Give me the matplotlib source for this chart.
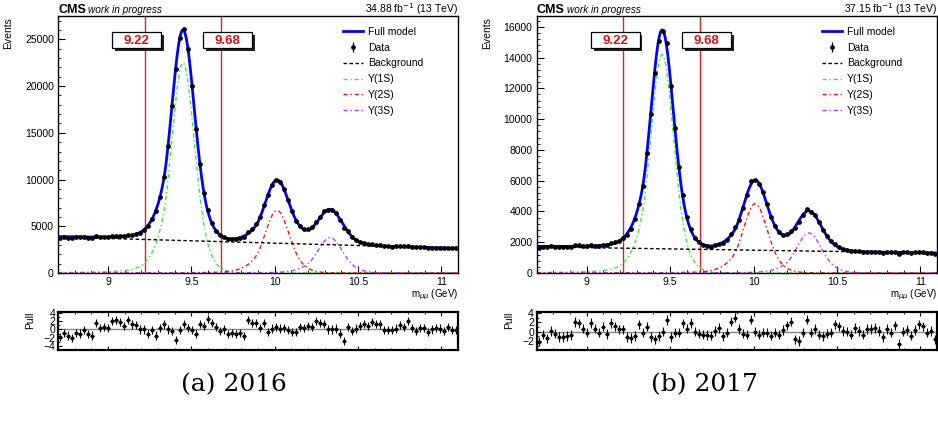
import numpy as np
import matplotlib
matplotlib.use("Agg")
import matplotlib.pyplot as plt
from matplotlib.patches import Rectangle
from matplotlib.ticker import MultipleLocator, FixedLocator, NullFormatter

plt.rcParams['font.family'] = ['Liberation Sans', 'DejaVu Sans']

# ---------------- data ----------------
mass_range = [8.7, 11.1]
n_bins = 100
cut_values = [9.22, 9.68]
cut_labels = ['9.22', '9.68']
captions = ['(a) 2016', '(b) 2017']
lumi_labels = ['34.88 fb$^{-1}$ (13 TeV)', '37.15 fb$^{-1}$ (13 TeV)']
legend_labels = ['Full model', 'Data', 'Background', 'Υ(1S)', 'Υ(2S)', 'Υ(3S)']
x_ticks = [9, 9.5, 10, 10.5, 11]
x_tick_labels = ['9', '9.5', '10', '10.5', '11']

data_2016 = [3783, 3840, 3792, 3754, 3820, 3803, 3846, 3778, 3754, 3943,
             3868, 3873, 3868, 3978, 3995, 3987, 3952, 4087, 4093, 4204,
             4316, 4612, 4998, 5732, 6603, 8151, 10292, 13543, 17856, 21821,
             25195, 26080, 23989, 20043, 15455, 11688, 8565, 6728, 5380, 4542,
             4037, 3804, 3606, 3606, 3619, 3735, 3854, 4354, 4682, 5214,
             5973, 7250, 8311, 9428, 9990, 9783, 9008, 7799, 6583, 5614,
             5046, 4693, 4662, 4873, 5469, 6043, 6581, 6786, 6759, 6396,
             5683, 4847, 4450, 3879, 3556, 3352, 3229, 3093, 3079, 3010,
             2967, 2867, 2848, 2833, 2839, 2869, 2836, 2897, 2800, 2746,
             2776, 2764, 2700, 2719, 2728, 2704, 2661, 2701, 2648, 2636]
pull_2016 = [-1.8, -0.8, -1.5, -2.0, -0.8, -1.0, -0.2, -1.2, -1.5, 1.6,
             0.4, 0.5, 0.4, 2.1, 2.2, 1.8, 0.8, 2.2, 1.2, 1.1,
             0.0, 0.0, -1.0, -0.2, -1.5, 0.4, 1.2, 0.0, -0.3, -2.6,
             -0.2, 1.4, 0.4, -0.2, -1.0, 1.4, 0.8, 2.6, 1.6, 0.5,
             -0.3, 0.0, -1.2, -0.8, -1.1, -0.8, -1.6, 2.2, 1.6, 1.6,
             0.4, 1.6, -0.6, 0.2, 0.6, 0.2, 0.4, -0.2, -0.6, -0.6,
             0.6, 0.4, 0.8, 0.6, 2.0, 1.6, 1.4, 0.0, 0.0, 0.2,
             -1.0, -2.9, 0.6, -0.4, 0.2, 0.8, 1.4, 0.8, 1.8, 1.4,
             1.2, -0.2, -0.2, -0.2, 0.2, 1.0, 0.6, 2.0, 0.4, -0.4,
             0.4, 0.4, -0.6, 0.0, 0.4, 0.2, -0.4, 0.6, -0.2, -0.2]
data_2017 = [1643, 1703, 1669, 1734, 1708, 1678, 1678, 1688, 1697, 1815,
             1805, 1763, 1731, 1825, 1784, 1762, 1837, 1798, 1946, 1991,
             2078, 2263, 2464, 2866, 3482, 4494, 5625, 7788, 10304, 12988,
             15070, 15744, 14937, 12156, 9427, 6870, 5044, 3640, 2880, 2292,
             1986, 1817, 1733, 1721, 1794, 1897, 1945, 2168, 2549, 2982,
             3475, 4226, 5047, 5946, 6031, 5798, 5243, 4455, 3638, 3057,
             2634, 2491, 2527, 2744, 2895, 3288, 3778, 4182, 3991, 3784,
             3288, 2788, 2382, 2048, 1881, 1702, 1558, 1485, 1419, 1444,
             1403, 1362, 1397, 1391, 1392, 1365, 1310, 1372, 1339, 1393,
             1243, 1334, 1345, 1297, 1337, 1376, 1357, 1303, 1313, 1244]
pull_2017 = [-2.1, -0.6, -1.4, 0.2, -0.4, -1.1, -1.1, -0.9, -0.7, 2.1,
             1.8, 0.7, -0.2, 1.9, 0.7, -0.2, 1.1, -0.5, 1.9, 1.2,
             0.5, 0.5, -1.1, -1.3, -0.9, 1.6, -0.2, 1.1, -1.1, -1.6,
             -0.9, 0.0, 2.5, -1.1, -0.2, -0.2, 1.8, 0.7, 1.9, 0.0,
             -0.4, -0.6, -0.7, -0.8, 0.2, 0.8, -1.0, -0.2, 2.2, 3.0,
             0.6, -0.4, -0.6, 2.6, 0.0, -0.6, -0.2, -0.2, -0.8, -0.2,
             -0.6, 0.4, 1.4, 2.2, -1.6, -2.0, -0.2, 2.6, -0.2, 0.6,
             -0.6, -1.0, -0.4, -0.2, 1.6, 1.2, 0.2, 0.0, -0.6, 0.8,
             0.2, -0.6, 0.6, 0.6, 0.8, 0.2, -1.2, 0.6, -0.2, 1.4,
             -2.6, 0.0, 0.4, -0.8, 0.4, 1.6, 1.2, -0.2, 0.2, -1.6]

# fit-model parameters
peak_mass_2016 = [9.450, 10.014, 10.332]
core_height_2016 = [15650, 4670, 2630]
wide_height_2016 = [6850, 2020, 1140]
bkg_ends_2016 = [3850, 2640]
peak_mass_2017 = [9.452, 10.010, 10.332]
core_height_2017 = [9900, 3140, 1815]
wide_height_2017 = [4290, 1360, 785]
bkg_ends_2017 = [1700, 1300]
core_width = [0.062, 0.0657, 0.0678]
wide_width = [0.100, 0.106, 0.109]
tail_alpha = 1.6
tail_n = 2.0

panels = [
    dict(data=data_2016, pull=pull_2016, mass=peak_mass_2016, h1=core_height_2016,
         h2=wide_height_2016, bkg=bkg_ends_2016, lumi=lumi_labels[0], cap=captions[0],
         ymax=27500, ymaj=5000, ymin=1000, plim=(-5.0, 4.3), pticks=[-4, -2, 0, 2, 4]),
    dict(data=data_2017, pull=pull_2017, mass=peak_mass_2017, h1=core_height_2017,
         h2=wide_height_2017, bkg=bkg_ends_2017, lumi=lumi_labels[1], cap=captions[1],
         ymax=16700, ymaj=2000, ymin=400, plim=(-3.9, 4.3), pticks=[-2, 0, 2, 4]),
]

# ---------------- model ----------------
def cb_core(m, mu, s, h):
    t = (m - mu) / s
    a, n = tail_alpha, tail_n
    A = (n / a) ** n * np.exp(-a * a / 2)
    B = n / a - a
    tail = A * np.power(np.clip(B - t, 1e-6, None), -n)
    return h * np.where(t > -a, np.exp(-0.5 * t * t), tail)


def peak(m, mu, s1, s2, h1, h2):
    return cb_core(m, mu, s1, h1) + h2 * np.exp(-0.5 * ((m - mu) / s2) ** 2)


# ---------------- layout ----------------
W, H = 938, 423
fig = plt.figure(figsize=(W / 100, H / 100), dpi=100)


def rect(x0, y0, x1, y1):
    return [x0 / W, 1 - y1 / H, (x1 - x0) / W, (y1 - y0) / H]


main_px = [(58, 16, 458, 273), (536.7, 16, 937, 273)]
pull_px = [(58, 311.7, 458, 350), (536.7, 311.7, 937, 350)]
cap_x = [234, 704]

edges = np.linspace(mass_range[0], mass_range[1], n_bins + 1)
centers = 0.5 * (edges[1:] + edges[:-1])
half = 0.5 * (edges[1] - edges[0])
mm = np.linspace(mass_range[0], mass_range[1], 1500)

comp_colors = ['#33ee33', '#ff1111', '#cc33ff']
comp_style = (0, (3.0, 2.0, 1.0, 2.0))
tick_fs = 7.5

for i, p in enumerate(panels):
    ax = fig.add_axes(rect(*main_px[i]))
    axp = fig.add_axes(rect(*pull_px[i]))

    bkg = p['bkg'][0] + (p['bkg'][1] - p['bkg'][0]) * (mm - mass_range[0]) / (mass_range[1] - mass_range[0])
    comps = [peak(mm, p['mass'][j], core_width[j], wide_width[j], p['h1'][j], p['h2'][j]) for j in range(3)]
    full = bkg + comps[0] + comps[1] + comps[2]

    for c in cut_values:
        ax.axvline(c, color='#dd2222', lw=1.0, zorder=1)

    hcomp = []
    for j in range(3):
        l, = ax.plot(mm, comps[j], color=comp_colors[j], lw=1.0, ls=comp_style, zorder=2)
        hcomp.append(l)
    hb, = ax.plot(mm, bkg, color='black', lw=1.0, ls=(0, (2.5, 1.8)), zorder=3)
    hf, = ax.plot(mm, full, color='#0000ff', lw=2.0, zorder=4)
    d = np.array(p['data'], dtype=float)
    ax.errorbar(centers, d, yerr=np.sqrt(d), xerr=half, fmt='o', ms=2.4, color='black',
                elinewidth=0.9, capsize=0, zorder=5)
    hd = ax.errorbar([np.nan], [np.nan], yerr=[1.0], fmt='o', ms=2.4, color='black',
                     elinewidth=0.9, capsize=0)

    ax.set_xlim(*mass_range)
    ax.set_ylim(0, p['ymax'])
    ax.yaxis.set_major_locator(MultipleLocator(p['ymaj']))
    ax.yaxis.set_minor_locator(MultipleLocator(p['ymin']))
    ax.xaxis.set_major_locator(FixedLocator(x_ticks))
    ax.set_xticklabels(x_tick_labels)
    ax.xaxis.set_minor_locator(MultipleLocator(0.1))
    ax.tick_params(which='both', direction='in', labelsize=tick_fs, top=False, right=False)
    ax.tick_params(which='major', length=5, width=0.8, pad=3)
    ax.tick_params(which='minor', length=2.5, width=0.6)
    for s in ax.spines.values():
        s.set_linewidth(1.0)

    ax.set_ylabel('Events', loc='top', fontsize=7.5)
    ax.yaxis.set_label_coords(-0.112, 0.995)
    ax.set_xlabel(r'm$_{\mu\mu}$ (GeV)', loc='right', fontsize=7)
    ax.xaxis.set_label_coords(1.0, -0.058)

    ax.text(0.0, 1.012, 'CMS', transform=ax.transAxes, fontsize=9, fontweight='bold',
            ha='left', va='baseline')
    ax.text(0.075, 1.012, 'work in progress', transform=ax.transAxes, fontsize=7.2,
            style='italic', ha='left', va='baseline')
    ax.text(1.0, 1.012, p['lumi'], transform=ax.transAxes, fontsize=7.5,
            ha='right', va='baseline')

    # cut labels
    for (bx0, bx1), lab in zip([(0.135, 0.257), (0.363, 0.485)], cut_labels):
        by0, by1 = 0.875, 0.938
        ax.add_patch(Rectangle((bx0 + 0.007, by0 - 0.011), bx1 - bx0, by1 - by0,
                               transform=ax.transAxes, facecolor='#222222', edgecolor='none', zorder=6))
        ax.add_patch(Rectangle((bx0, by0), bx1 - bx0, by1 - by0, transform=ax.transAxes,
                               facecolor='white', edgecolor='black', lw=0.9, zorder=7))
        ax.text(0.5 * (bx0 + bx1), 0.5 * (by0 + by1) - 0.002, lab, transform=ax.transAxes,
                ha='center', va='center', fontsize=9.5, fontweight='bold', color='#dd1111', zorder=8)

    handles = [hf, hd, hb] + hcomp
    ax.legend(handles, legend_labels, loc='upper left', bbox_to_anchor=(0.712, 0.958),
              frameon=False, fontsize=7.5, handlelength=1.9, handletextpad=0.5,
              labelspacing=0.56, borderaxespad=0, borderpad=0)

    # pull panel
    pl = np.array(p['pull'], dtype=float)
    axp.axhline(0, color='#888888', lw=1.0, zorder=1)
    axp.errorbar(centers, pl, yerr=np.ones_like(pl), xerr=half, fmt='o', ms=1.8,
                 color='black', elinewidth=0.8, capsize=0, zorder=3)
    axp.set_xlim(*mass_range)
    axp.set_ylim(*p['plim'])
    axp.yaxis.set_major_locator(FixedLocator(p['pticks']))
    axp.yaxis.set_minor_locator(MultipleLocator(1))
    axp.xaxis.set_major_locator(FixedLocator(x_ticks))
    axp.xaxis.set_minor_locator(MultipleLocator(0.1))
    axp.xaxis.set_major_formatter(NullFormatter())
    axp.tick_params(which='both', direction='in', labelsize=tick_fs, top=True, right=False)
    axp.tick_params(which='major', length=3, width=0.8, pad=2)
    axp.tick_params(which='minor', length=1.5, width=0.6)
    for s in axp.spines.values():
        s.set_linewidth(1.6)
    axp.set_ylabel('Pull', loc='top', fontsize=7.5)
    axp.yaxis.set_label_coords(-0.056, 1.0)

    fig.text(cap_x[i] / W, 1 - 385 / H, p['cap'], ha='center', va='center',
             fontsize=18, math_fontfamily='cm', family='DejaVu Serif')

fig.savefig('out.png', dpi=100)
